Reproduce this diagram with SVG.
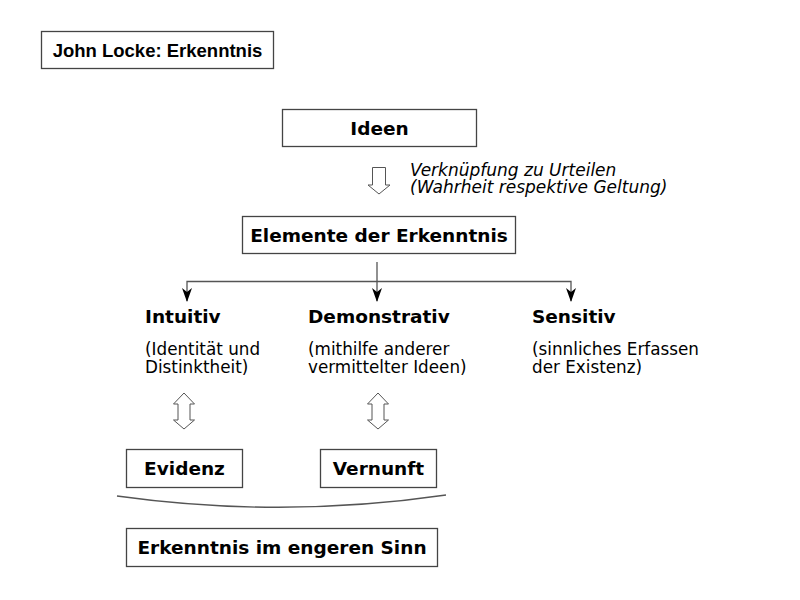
<svg xmlns="http://www.w3.org/2000/svg" width="800" height="600" viewBox="0 0 800 600">
<defs>
<style>
.box{fill:#fff;stroke:#444;stroke-width:1.3}
.t{font-family:"DejaVu Sans",sans-serif;font-weight:bold;font-size:18.5px;fill:#000}
.c{text-anchor:middle}
.n{font-family:"DejaVu Sans",sans-serif;font-size:16.8px;fill:#000}
.i{font-family:"DejaVu Sans",sans-serif;font-style:italic;font-size:17px;fill:#000}
.ln{fill:none;stroke:#555;stroke-width:1.3}
.ha{fill:#fff;stroke:#555;stroke-width:1}
</style>
<marker id="ah" viewBox="0 0 14 10" refX="13" refY="5" markerWidth="14" markerHeight="10" markerUnits="userSpaceOnUse" orient="auto-start-reverse">
<path d="M0,0 L4,5 L0,10 L14,5 Z" fill="#000"/>
</marker>
</defs>
<rect width="800" height="600" fill="#fff"/>

<g id="title">
<rect class="box" x="41.5" y="31.5" width="232" height="37"/>
<text x="157.5" y="56.5" text-anchor="middle" style="font-family:'Liberation Sans',Arial,sans-serif;font-weight:bold;font-size:18.5px">John Locke: Erkenntnis</text>
</g>

<g id="ideen">
<rect class="box" x="282.5" y="109.5" width="194" height="37"/>
<text class="t c" x="379.5" y="134.5">Ideen</text>
</g>

<g id="verknuepfung">
<text class="i" x="410" y="175.5">Verknüpfung zu Urteilen</text>
<text class="i" x="410" y="193">(Wahrheit respektive Geltung)</text>
</g>

<g id="elemente">
<rect class="box" x="242.5" y="216.5" width="273" height="37"/>
<text class="t c" x="379" y="241.5">Elemente der Erkenntnis</text>
</g>

<g id="intuitiv">
<text class="t" x="145" y="323">Intuitiv</text>
<text class="n" x="145" y="355">(Identität und</text>
<text class="n" x="145" y="372.5">Distinktheit)</text>
</g>

<g id="demonstrativ">
<text class="t" x="308" y="323">Demonstrativ</text>
<text class="n" x="308" y="355">(mithilfe anderer</text>
<text class="n" x="308" y="372.5">vermittelter Ideen)</text>
</g>

<g id="sensitiv">
<text class="t" x="532" y="323">Sensitiv</text>
<text class="n" x="532" y="355">(sinnliches Erfassen</text>
<text class="n" x="532" y="372.5">der Existenz)</text>
</g>

<g id="evidenz">
<rect class="box" x="126.5" y="449.5" width="116" height="38"/>
<text class="t c" x="184.5" y="475">Evidenz</text>
</g>

<g id="vernunft">
<rect class="box" x="320.5" y="449.5" width="116" height="38"/>
<text class="t c" x="378.5" y="475">Vernunft</text>
</g>

<g id="erkenntnis-engeren">
<rect class="box" x="126.5" y="528.5" width="311" height="38"/>
<text class="t c" x="282" y="554">Erkenntnis im engeren Sinn</text>
</g>

<g id="connectors">
<path class="ha" d="M372.5,167.5 H385.5 V185 H390 L379,194 L368,185 H372.5 Z"/>
<path class="ln" d="M377,262 V301" marker-end="url(#ah)"/>
<path class="ln" d="M187,301 V281.5 H571 V301" marker-start="url(#ah)" marker-end="url(#ah)"/>
<path class="ha" d="M184,393 L194.5,404 H190 V420 H194.5 L184,429 L173.5,420 H178 V404 H173.5 Z"/>
<path class="ha" d="M378,393 L388.5,404 H384 V420 H388.5 L378,429 L367.5,420 H372 V404 H367.5 Z"/>
<path class="ln" d="M117,496 Q282,519 446,495"/>
</g>
</svg>
